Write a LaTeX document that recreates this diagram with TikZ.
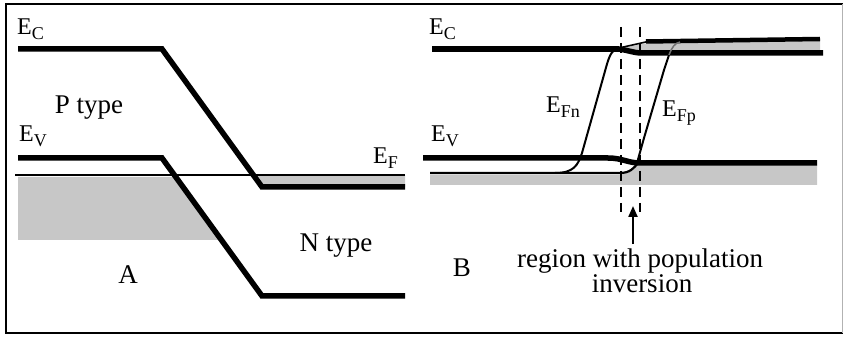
\documentclass[tikz,border=0pt]{standalone}
\usepackage{fontspec}
\setmainfont{Liberation Serif}
\usetikzlibrary{arrows.meta}
\newcommand\elab[2]{#1\raisebox{-0.18em}{\fontsize{18}{18}\selectfont #2}}
\begin{document}
\begin{tikzpicture}[x=1pt,y=-1pt,
  band/.style={line width=5.5pt},
  thinband/.style={line width=2.2pt},
  shade/.style={fill=black!22},
  qf/.style={line width=2pt},
  txt/.style={font=\fontsize{27}{29}\selectfont, inner sep=0pt, anchor=base},
  elbl/.style={font=\fontsize{24}{25}\selectfont, inner sep=0pt, anchor=base west},
  dsh/.style={line width=2.6pt, dash pattern=on 10pt off 6pt}]
\useasboundingbox (0,0) rectangle (844,339);
% frame
\draw[line width=2.5pt] (843,4) -- (6,4) -- (6,333) -- (843,333);
\draw[line width=0.8pt, black!30] (842,4) -- (842,333);

% ---------- Panel A ----------
\fill[shade] (18,177) -- (176,177) -- (222,240) -- (18,240) -- cycle;
\fill[shade] (253,175) -- (405,175) -- (405,187) -- (262,187) -- cycle;
\draw[line width=1.6pt] (15,175) -- (405,175);
\draw[band] (18,49) -- (162,49) -- (262,187) -- (405,187);
\draw[band] (18,158) -- (162,158) -- (262,296) -- (405,296);

\node[elbl] (aec) at (17,35) {\elab{E}{C}};
\node[elbl] (aev) at (19,142) {\elab{E}{V}};
\node[elbl] (aef) at (373,164) {\elab{E}{F}};
\node[txt] (ptype) at (89,114) {P type};
\node[txt] (ntype) at (336,252) {N type};
\node[txt] (la) at (128,284) {A};

% ---------- Panel B ----------
\fill[shade] (622,48) -- (648,43) -- (820,41) -- (820,51) -- (640,51) -- cycle;
\fill[shade] (430,175) -- (620,175) -- (638,165) -- (817,165) -- (817,185) -- (430,185) -- cycle;

\draw[band] (432,49) -- (619,49);
\draw[line width=1.6pt] (619,48) -- (648,41.5);
\draw[line width=4.5pt] (646,41.5) -- (820,39);
\draw[band] (618,49) .. controls (628,50) and (633,53) .. (642,53) -- (823,53);
\draw[band] (423,158) -- (608,158) .. controls (622,158) and (628,163) .. (640,163) -- (817,163);
\draw[thinband] (430,173) -- (620,173) .. controls (630,173) and (634,168) .. (638,163);

% quasi Fermi levels
\draw[qf] (555,173) .. controls (574,173) and (578,165) .. (582,153) -- (607,64) .. controls (610,54) and (613,49) .. (619,48);
\draw[qf] (637,163) .. controls (640,150) .. (644,138) -- (664,70) .. controls (666,62) .. (669,55);
\draw[line width=1.5pt, black!55] (669,55) .. controls (672,47) and (675,43) .. (680,42);

% dashed region
\draw[dsh] (621,27) -- (621,212);
\draw[dsh] (640,27) -- (640,212);

\node[elbl] (bec) at (429,35) {\elab{E}{C}};
\node[elbl] (bev) at (431,142) {\elab{E}{V}};
\node[elbl] (befn) at (546,113) {\elab{E}{Fn}};
\node[elbl] (befp) at (662,117) {\elab{E}{Fp}};
\node[txt] (lb) at (462,277) {B};
\node[txt] (reg1) at (640,268) {region with population};
\node[txt] (reg2) at (642,293) {inversion};

\coordinate (arrtip) at (633,206);
\draw[line width=2.2pt, -{Triangle[length=11pt,width=9pt]}] (reg1.north -| arrtip) ++(0,-5) -- (arrtip);
\end{tikzpicture}
\end{document}
